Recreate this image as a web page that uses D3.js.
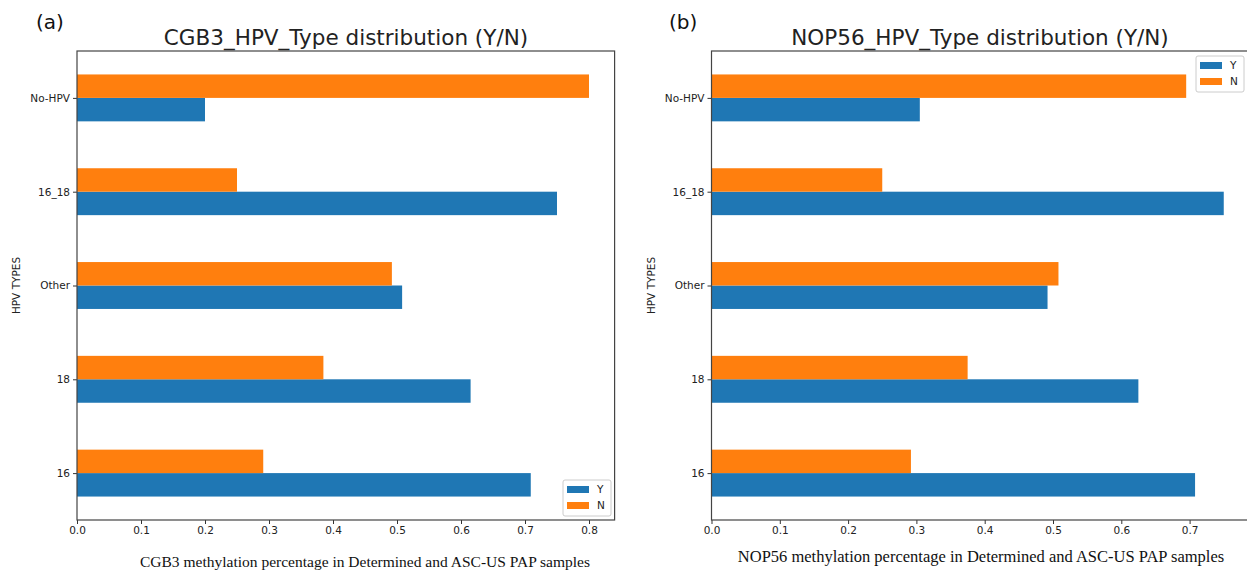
<!DOCTYPE html>
<html>
<head>
<meta charset="utf-8">
<script src="https://cdn.jsdelivr.net/npm/d3@7"></script>
<style>
body{margin:0;background:#fff;}
svg{display:block;}
</style>
</head>
<body>
<svg id="chart" width="1247" height="571"></svg>
<script>
// ---- data ----
const categories = ["16", "18", "Other", "16_18", "No-HPV"];
const seriesNames = ["Y", "N"];
const cgb3Y = [0.709, 0.615, 0.508, 0.75, 0.2];
const cgb3N = [0.291, 0.385, 0.492, 0.25, 0.8];
const nop56Y = [0.708, 0.625, 0.492, 0.75, 0.305];
const nop56N = [0.292, 0.375, 0.508, 0.25, 0.695];
const xTicks = [0.0, 0.1, 0.2, 0.3, 0.4, 0.5, 0.6, 0.7, 0.8];
const titles = ["CGB3_HPV_Type distribution (Y/N)", "NOP56_HPV_Type distribution (Y/N)"];
const xLabels = ["CGB3 methylation percentage in Determined and ASC-US PAP samples",
                 "NOP56 methylation percentage in Determined and ASC-US PAP samples"];
const panelTags = ["(a)", "(b)"];
const yAxisLabel = "HPV TYPES";

const colors = {Y: "#1f77b4", N: "#ff7f0e"};
const svg = d3.select("#chart");

function panel(opt) {
  const g = svg.append("g");
  const x = d3.scaleLinear().domain([0, opt.xmax]).range([opt.left, opt.left + opt.pxPerUnit * opt.xmax]);
  const y = d3.scaleLinear().domain([-0.5, categories.length - 0.5]).range([opt.bottom, opt.top]);
  const clipId = "clip" + opt.idx;
  g.append("clipPath").attr("id", clipId).append("rect")
    .attr("x", opt.left).attr("y", opt.top).attr("width", x(opt.xmax) - opt.left).attr("height", opt.bottom - opt.top);
  const bars = g.append("g").attr("clip-path", `url(#${clipId})`);
  const bw = 0.25;
  const series = [{name: "Y", vals: opt.Y, off: -bw / 2}, {name: "N", vals: opt.N, off: bw / 2}];
  series.forEach(s => {
    bars.selectAll(null).data(s.vals).enter().append("rect")
      .attr("x", x(0))
      .attr("y", (d, i) => y(i + s.off + bw / 2))
      .attr("width", d => x(d) - x(0))
      .attr("height", y(0) - y(bw))
      .attr("fill", colors[s.name]);
  });
  // axes
  const xAxis = d3.axisBottom(x).tickValues(opt.ticks).tickFormat(d3.format(".1f")).tickSize(4).tickPadding(3);
  const gx = g.append("g").attr("transform", `translate(0,${opt.bottom})`).call(xAxis);
  const yAxis = d3.axisLeft(y).tickValues(d3.range(categories.length)).tickFormat(i => categories[i]).tickSize(4).tickPadding(3);
  const gy = g.append("g").attr("transform", `translate(${opt.left},0)`).call(yAxis);
  [gx, gy].forEach(a => {
    a.select(".domain").remove();
    a.selectAll("line").attr("stroke", "#333");
    a.selectAll("text").attr("font-family", "DejaVu Sans, sans-serif").attr("font-size", "10.5px").attr("fill", "#222");
  });
  // frame
  g.append("rect").attr("x", opt.left).attr("y", opt.top)
    .attr("width", x(opt.xmax) - opt.left).attr("height", opt.bottom - opt.top)
    .attr("fill", "none").attr("stroke", "#444").attr("stroke-width", 1.2);
  // title
  g.append("text").attr("x", opt.titleX).attr("y", 45).attr("text-anchor", "middle")
    .attr("font-family", "DejaVu Sans, sans-serif").attr("font-size", "21.5px").attr("fill", "#222")
    .text(opt.title);
  g.append("text").attr("x", opt.tagX).attr("y", 29)
    .attr("font-family", "DejaVu Sans, sans-serif").attr("font-size", "20px").attr("fill", "#111")
    .text(opt.tag);
  // y label
  g.append("text").attr("transform", `translate(${opt.ylabX},${(opt.top + opt.bottom) / 2}) rotate(-90)`)
    .attr("text-anchor", "middle").attr("font-family", "DejaVu Sans, sans-serif").attr("font-size", "10.5px").attr("fill", "#222")
    .text(yAxisLabel);
  // x label
  g.append("text").attr("x", opt.xlabX).attr("y", opt.xlabY).attr("text-anchor", "middle")
    .attr("font-family", "Liberation Serif, Times New Roman, serif").attr("font-size", opt.xlabSize).attr("fill", "#111")
    .text(opt.xlabel);
  // legend
  const lg = g.append("g").attr("transform", `translate(${opt.legX},${opt.legY})`);
  lg.append("rect").attr("width", 48).attr("height", 36).attr("rx", 2)
    .attr("fill", "#fff").attr("fill-opacity", 0.8).attr("stroke", "#ccc");
  seriesNames.forEach((n, i) => {
    lg.append("rect").attr("x", 4).attr("y", 6 + i * 16).attr("width", 22).attr("height", 7).attr("fill", colors[n]);
    lg.append("text").attr("x", 34).attr("y", 13 + i * 16)
      .attr("font-family", "DejaVu Sans, sans-serif").attr("font-size", "10.5px").attr("fill", "#222").text(n);
  });
}

panel({idx: 0, left: 77, top: 51, bottom: 520, pxPerUnit: 640, xmax: 0.84, ticks: xTicks,
  Y: cgb3Y, N: cgb3N, title: titles[0], titleX: 346, tag: panelTags[0], tagX: 36,
  ylabX: 20, xlabel: xLabels[0], xlabX: 365, xlabY: 567, xlabSize: "15.5px", legX: 563, legY: 480});
panel({idx: 1, left: 711.5, top: 51, bottom: 520, pxPerUnit: 683, xmax: 0.7875, ticks: xTicks.slice(0, 8),
  Y: nop56Y, N: nop56N, title: titles[1], titleX: 980, tag: panelTags[1], tagX: 669,
  ylabX: 655, xlabel: xLabels[1], xlabX: 981, xlabY: 562, xlabSize: "16.5px", legX: 1196, legY: 56});
</script>
</body>
</html>
